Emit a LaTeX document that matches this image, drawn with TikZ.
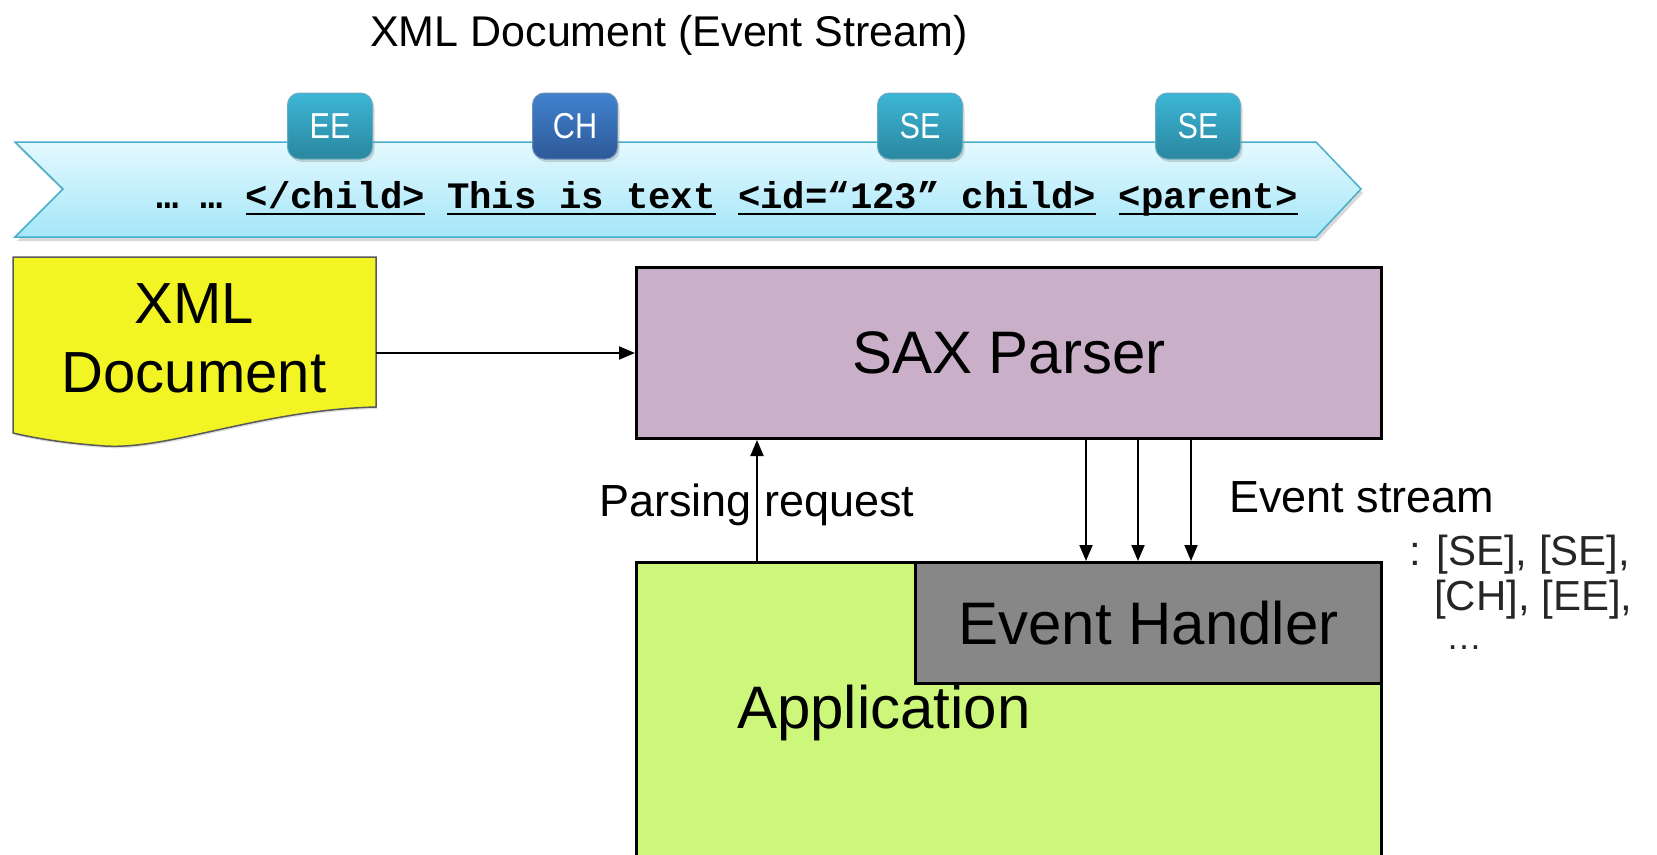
\documentclass[tikz,border=0pt]{standalone}
\usepackage{fontspec}
\setmainfont{Liberation Sans}
\setmonofont{Liberation Mono}
\usetikzlibrary{arrows.meta,shadows,calc}
\definecolor{bannerT}{HTML}{E4F9FF}
\definecolor{bannerB}{HTML}{A4E6F8}
\definecolor{bannerL}{HTML}{48AECA}
\definecolor{badgeT}{HTML}{3CB6D6}
\definecolor{badgeB}{HTML}{2A879F}
\definecolor{chT}{HTML}{4082CE}
\definecolor{chB}{HTML}{2E5998}
\definecolor{saxc}{HTML}{C9AFC8}
\definecolor{appc}{HTML}{CCF77B}
\definecolor{ehc}{HTML}{878787}
\definecolor{xmlc}{HTML}{F2F424}
\newcommand\ulx[1]{\setbox0=\hbox{#1}\rlap{\rule[-7pt]{\wd0}{2.2pt}}\box0\relax}
\tikzset{
  badge/.style={rounded corners=12pt, minimum width=85pt, minimum height=66pt,
    top color=badgeT, bottom color=badgeB, draw=badgeB!70!white, line width=1pt,
    text=white, font=\fontsize{36}{36}\selectfont,
    drop shadow={opacity=0.3, shadow xshift=2pt, shadow yshift=-3pt}},
  chbadge/.style={badge, top color=chT, bottom color=chB, draw=chB!70!white},
  box/.style={draw=black, line width=3pt, anchor=north west, inner sep=0pt},
  big/.style={font=\fontsize{60}{66}\selectfont},
  mid/.style={font=\fontsize{45}{50}\selectfont},
  evl/.style={font=\fontsize{42}{46}\selectfont, anchor=west, inner sep=0pt, text=black!85},
  arr/.style={line width=2pt, -{Triangle[length=16pt,width=13pt]}},
}
\begin{document}
\begin{tikzpicture}[x=1pt,y=-1pt]
\useasboundingbox (0,0) rectangle (1657,854);
% title
\node[font=\fontsize{43}{48}\selectfont] (title) at (669,35) {XML Document (Event Stream)};
% banner
\path[top color=bannerT, bottom color=bannerB, draw=bannerL, line width=1.5pt,
  drop shadow={opacity=0.3, shadow xshift=2pt, shadow yshift=-4pt}]
  (15,142) -- (1316,142) -- (1361,189) -- (1316,237) -- (15,237) -- (63,189) -- cycle;
\node[anchor=base west, inner sep=0pt, font=\fontsize{37.3}{40}\selectfont\ttfamily\bfseries] (stream) at (156,208)
  {… … \ulx{</child>} \ulx{This is text} \ulx{<id=“123” child>} \ulx{<parent>}};
% badges
\node[badge] (ee) at (330,126) {\scalebox{0.85}[1]{EE}};
\node[chbadge] (ch) at (575,126) {\scalebox{0.85}[1]{CH}};
\node[badge] (se1) at (920,126) {\scalebox{0.85}[1]{SE}};
\node[badge] (se2) at (1198,126) {\scalebox{0.85}[1]{SE}};
% XML document shape
\path[fill=xmlc, draw=black!65, line width=1.5pt,
  drop shadow={opacity=0.25, shadow xshift=1pt, shadow yshift=-2pt}]
  (13,257) -- (376,257) -- (376,407)
  .. controls (260,410) and (170,450) .. (105,446)
  .. controls (60,443) and (30,437) .. (13,433) -- cycle;
\node[minimum width=363pt, minimum height=150pt, anchor=north west, inner sep=0pt] (xml) at (13,257) {};
\node[big, align=center, font=\fontsize{58}{69}\selectfont] (xmltext) at (194,338) {XML\\Document};
% boxes
\node[box, fill=saxc, minimum width=745pt, minimum height=171pt] (sax) at (635,266) {};
\node[big] (saxtext) at (sax.center) {SAX Parser};
\node[box, fill=appc, minimum width=745pt, minimum height=300pt] (app) at (635,561) {};
\node[box, fill=ehc, minimum width=466pt, minimum height=121pt] (eh) at (914,561) {};
\node[big] (ehtext) at (eh.center) {Event Handler};
\node[big] (apptext) at (884,713) {Application};
% connectors
\draw[arr] (sax.west -| xml.east) -- (sax.west);
\coordinate (pr) at (757,561);
\draw[arr] (pr) -- (pr |- sax.south);
\coordinate (e1) at (1086,437);
\coordinate (e2) at (1138,437);
\coordinate (e3) at (1191,437);
\draw[arr] (e1) -- (e1 |- eh.north);
\draw[arr] (e2) -- (e2 |- eh.north);
\draw[arr] (e3) -- (e3 |- eh.north);
% labels
\node[mid] (prl) at (757,505) {Parsing request};
\node[mid, anchor=west, inner sep=0pt] (esl) at (1229,497) {Event stream};
\node[evl] (ev1) at (1409,555) {: [SE], [SE],};
\node[evl] (ev2) at (1434,600) {[CH], [EE],};
\node[evl, font=\fontsize{36}{36}\selectfont] (ev3) at (1446,648) {…};
\end{tikzpicture}
\end{document}
